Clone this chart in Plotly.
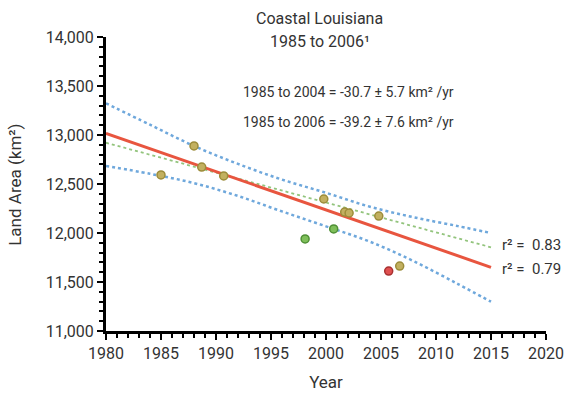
import plotly.graph_objects as go

# Observed data points
years_olive = [1985.0, 1988.0, 1988.7, 1990.7, 1999.8, 2001.7, 2002.1, 2004.8, 2006.7]
area_olive = [12592, 12888, 12673, 12582, 12347, 12214, 12204, 12173, 11663]
years_green = [1998.1, 2000.7]
area_green = [11939, 12041]
years_red = [2005.7]
area_red = [11612]

# Regression lines (end points)
fit_years = [1980, 2015]
fit_2006 = [13017, 11650]   # 1985 to 2006 fit, r2 = 0.79
fit_2004 = [12921, 11854]   # 1985 to 2004 fit, r2 = 0.83

# Confidence band of the 1985-2006 fit
band_years = [1980, 1984, 1988, 1992, 1996, 2000, 2004, 2008, 2012, 2015]
band_upper = [13323, 13105, 12888, 12705, 12545, 12410, 12268, 12160, 12070, 12000]
band_lower = [12684, 12604, 12509, 12378, 12220, 12068, 11911, 11711, 11479, 11299]

FONT = "Roboto, Liberation Sans, sans-serif"
TXT = "#333333"

fig = go.Figure()
fig.add_trace(go.Scatter(x=band_years, y=band_upper, mode="lines",
                         line=dict(color="#6fa8dc", width=2.5, dash="dot", shape="spline")))
fig.add_trace(go.Scatter(x=band_years, y=band_lower, mode="lines",
                         line=dict(color="#6fa8dc", width=2.5, dash="dot", shape="spline")))
fig.add_trace(go.Scatter(x=fit_years, y=fit_2004, mode="lines",
                         line=dict(color="#93c47d", width=1.8, dash="dot")))
fig.add_trace(go.Scatter(x=fit_years, y=fit_2006, mode="lines",
                         line=dict(color="#e8553f", width=3)))
fig.add_trace(go.Scatter(x=years_olive, y=area_olive, mode="markers",
                         marker=dict(size=8, color="#c2b060", line=dict(color="#9c8c3a", width=1.5))))
fig.add_trace(go.Scatter(x=years_green, y=area_green, mode="markers",
                         marker=dict(size=8, color="#7fbf5a", line=dict(color="#4f8f35", width=1.5))))
fig.add_trace(go.Scatter(x=years_red, y=area_red, mode="markers",
                         marker=dict(size=8, color="#e05050", line=dict(color="#a83030", width=1.5))))

fig.add_annotation(x=0.486, xref="paper", y=1.064, yref="paper", yanchor="middle",
                   text="Coastal Louisiana", showarrow=False,
                   font=dict(family=FONT, size=16, color=TXT))
fig.add_annotation(x=0.486, xref="paper", y=0.983, yref="paper", yanchor="middle",
                   text="1985 to 2006¹", showarrow=False,
                   font=dict(family=FONT, size=16, color=TXT))
fig.add_annotation(x=0.55, xref="paper", y=0.813, yref="paper", yanchor="middle",
                   text="1985 to 2004 = -30.7 ± 5.7 km² /yr",
                   showarrow=False, font=dict(family=FONT, size=14, color=TXT))
fig.add_annotation(x=0.55, xref="paper", y=0.711, yref="paper", yanchor="middle",
                   text="1985 to 2006 = -39.2 ± 7.6 km² /yr",
                   showarrow=False, font=dict(family=FONT, size=14, color=TXT))
fig.add_annotation(x=2015.8, y=11878, text="r² =  0.83", showarrow=False, xanchor="left",
                   font=dict(family=FONT, size=15, color=TXT))
fig.add_annotation(x=2015.8, y=11633, text="r² =  0.79", showarrow=False, xanchor="left",
                   font=dict(family=FONT, size=15, color=TXT))
fig.add_annotation(x=-0.207, xref="paper", y=0.497, yref="paper", textangle=-90,
                   text="Land Area (km²)", showarrow=False, xanchor="center", yanchor="middle",
                   font=dict(family=FONT, size=17, color=TXT))

fig.update_layout(
    width=566, height=402,
    margin=dict(l=106, r=20, t=37, b=71),
    paper_bgcolor="white", plot_bgcolor="white",
    showlegend=False,
    font=dict(family=FONT, size=16, color=TXT),
    xaxis=dict(range=[1980, 2020], dtick=5, tick0=1980, showgrid=False, zeroline=False,
               automargin=False,
               showline=True, linecolor="black", linewidth=3,
               ticks="outside", ticklen=6, tickwidth=2, tickcolor="black",
               minor=dict(dtick=1, ticks="outside", ticklen=4, tickwidth=2, tickcolor="black"),
               title=dict(text="Year", font=dict(family=FONT, size=17, color=TXT), standoff=14),
               tickfont=dict(family=FONT, size=16, color=TXT)),
    yaxis=dict(range=[11000, 14000], dtick=500, tick0=11000, tickformat=",", showgrid=False,
               zeroline=False, automargin=False, showline=True, linecolor="black", linewidth=3,
               ticks="outside", ticklen=6, tickwidth=2, tickcolor="black",
               minor=dict(dtick=100, ticks="outside", ticklen=4, tickwidth=2, tickcolor="black"),
               tickfont=dict(family=FONT, size=16, color=TXT)),
)

# remove the page's default 8px body margin so the figure fills the window
fig.write_html("out.html",
               config={"displayModeBar": False},
               post_script="document.body.style.margin='0';document.body.style.overflow='hidden';")
